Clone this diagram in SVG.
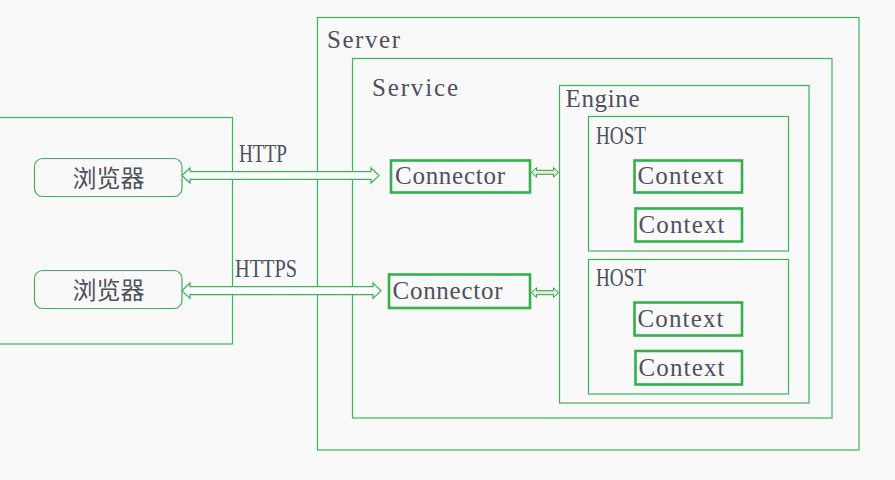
<svg xmlns="http://www.w3.org/2000/svg" width="895" height="480" viewBox="0 0 895 480">
  <style>
    .frame { fill: none; stroke: #3cb45a; stroke-width: 1.2; }
    .box { fill: none; stroke: #33b050; stroke-width: 2.6; }
    .rbox { fill: none; stroke: #3cb45a; stroke-width: 1.2; }
    .t { font-family: "Liberation Serif", "Noto Sans CJK SC", serif; font-size: 25px; fill: #4e5060; }
    .cjk { font-family: "Noto Sans CJK SC", sans-serif; font-size: 24px; fill: #4e5060; }
    .big { fill: #ffffff; stroke: #3cb45a; stroke-width: 1.2; }
    .small { fill: #dcefdc; stroke: #3a9a3a; stroke-width: 1; }
  </style>
  <rect x="0" y="0" width="895" height="480" fill="#f9f9f9"/>

  <g id="client">
    <rect class="frame" x="-5" y="117.5" width="237.5" height="226.5"/>
  </g>
  <g id="browser1">
    <rect class="rbox" x="34.5" y="158.5" width="147.5" height="38" rx="8"/>
    <text class="cjk" x="108.5" y="186.5" text-anchor="middle">浏览器</text>
  </g>
  <g id="browser2">
    <rect class="rbox" x="34.5" y="270.5" width="147.5" height="38" rx="8"/>
    <text class="cjk" x="108.5" y="298.5" text-anchor="middle">浏览器</text>
  </g>

  <g id="server">
    <rect class="frame" x="317.5" y="17.5" width="541.5" height="432.5"/>
    <text class="t" x="327" y="48" textLength="73" lengthAdjust="spacing">Server</text>
  </g>
  <g id="service">
    <rect class="frame" x="352.5" y="58.5" width="479.5" height="359.5"/>
    <text class="t" x="372" y="96" textLength="86" lengthAdjust="spacing">Service</text>
  </g>
  <g id="engine">
    <rect class="frame" x="559.5" y="85.5" width="249.5" height="317.5"/>
    <text class="t" x="565.5" y="106.5" textLength="74" lengthAdjust="spacing">Engine</text>
  </g>
  <g id="host1">
    <rect class="frame" x="588.5" y="116.5" width="200" height="134.5"/>
    <text class="t" x="596" y="143.5" textLength="50" lengthAdjust="spacingAndGlyphs">HOST</text>
  </g>
  <g id="host2">
    <rect class="frame" x="588.5" y="259.5" width="200" height="134.5"/>
    <text class="t" x="596" y="286" textLength="50" lengthAdjust="spacingAndGlyphs">HOST</text>
  </g>

  <g id="context1">
    <rect class="box" x="634.5" y="160.5" width="107.5" height="32"/>
    <text class="t" x="637.5" y="183.5" textLength="86" lengthAdjust="spacing">Context</text>
  </g>
  <g id="context2">
    <rect class="box" x="635.5" y="208.5" width="106.5" height="33"/>
    <text class="t" x="638.5" y="232.5" textLength="86" lengthAdjust="spacing">Context</text>
  </g>
  <g id="context3">
    <rect class="box" x="634.5" y="302.5" width="107.5" height="33"/>
    <text class="t" x="637.5" y="326.5" textLength="86" lengthAdjust="spacing">Context</text>
  </g>
  <g id="context4">
    <rect class="box" x="635.5" y="351" width="106.5" height="33.5"/>
    <text class="t" x="638.5" y="376" textLength="86" lengthAdjust="spacing">Context</text>
  </g>

  <g id="connector1">
    <rect class="box" x="391" y="160.5" width="139" height="32"/>
    <text class="t" x="395" y="183.5" textLength="110" lengthAdjust="spacing">Connector</text>
  </g>
  <g id="connector2">
    <rect class="box" x="389" y="274.5" width="141" height="33.5"/>
    <text class="t" x="392.5" y="298.5" textLength="110" lengthAdjust="spacing">Connector</text>
  </g>

  <g id="connectors">
    <polygon class="big" points="182,175.5 190,168 190,171.7 371,171.7 371,168 379,175.5 371,183 371,179.3 190,179.3 190,183"/>
    <text class="t" x="239" y="161.5" textLength="48" lengthAdjust="spacingAndGlyphs">HTTP</text>
    <polygon class="big" points="182,290.7 190,283 190,286.7 373,286.7 373,283 381,290.7 373,298.4 373,294.7 190,294.7 190,298.4"/>
    <text class="t" x="235" y="276.5" textLength="62" lengthAdjust="spacingAndGlyphs">HTTPS</text>
    <polygon class="small" points="531.5,172.3 536.5,167.5 536.5,170.3 553.5,170.3 553.5,167.5 558.5,172.3 553.5,177.1 553.5,174.3 536.5,174.3 536.5,177.1"/>
    <polygon class="small" points="531.5,292.7 536.5,287.9 536.5,290.7 553.5,290.7 553.5,287.9 558.5,292.7 553.5,297.5 553.5,294.7 536.5,294.7 536.5,297.5"/>
  </g>
</svg>
